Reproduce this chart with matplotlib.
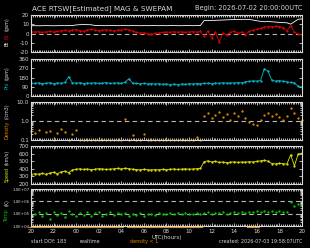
import numpy as np
import matplotlib.pyplot as plt
from matplotlib.ticker import FixedLocator, NullFormatter, LogLocator
import matplotlib.transforms as mtransforms

plt.rcParams['font.family'] = ['DejaVu Sans']
plt.rcParams['axes.unicode_minus'] = False

# time axis: hours since 2026-07-02 20:00 UTC, 20 minute samples
hours = np.arange(73) / 3.0
hour_ticks = [0, 2, 4, 6, 8, 10, 12, 14, 16, 18, 20, 22, 24]
hour_labels = ['20', '22', '00', '02', '04', '06', '08', '10', '12', '14', '16', '18', '20']

bt = [8.4, 8.5, 8.4, 8.5, 8.6, 8.5, 8.4, 8.5, 8.6, 8.5, 8.6, 8.7, 9.3,
      9.6, 9.7, 9.6, 9.5,
      8.7, 8.6, 8.6, 8.5, 8.6, 8.6, 8.5, 8.6, 8.6, 8.5, 8.6, 8.6, 8.5, 8.6, 8.5,
      8.6, 8.6, 8.5, 8.6, 8.5, 8.6, 8.6, 8.5, 8.5, 8.6, 8.6, 8.5, 8.6, 8.6,
      14.0,
      14.0, 14.2, 14.3, 14.5, 14.6, 14.8, 15.0, 15.1, 15.2, 15.3, 15.4,
      15.2, 14.6, 13.8, 13.2, 12.8,
      13.0, 12.7, 12.4, 12.0, 11.8, 11.6,
      10.2, 12.8, 15.4, 15.8]
bz = [1.5, 1.8, 2.0, 1.2, 1.9, 2.2, 1.6, 2.4,
      3.0, 3.6, 2.5, 3.8, 4.2, 3.1, 2.2, 3.9, 4.4, 3.6, 3.0, 3.8, 4.1, 3.4, 2.8,
      3.9, 3.5, 4.6, 3.8,
      2.6, 1.2, 0.6, 0.9, -0.4, -1.0, 0.3, 0.8,
      1.2, 1.6, 1.4, 1.9, 1.5, 1.8, 1.3, 1.7, 2.0, 1.6, 2.2,
      -2.5, 2.8, -4.5, 1.5, -9.0, 0.5, -1.5,
      1.2, 2.5, 0.2, 1.8, -1.2, 2.4,
      3.5, 4.8, 5.8, 7.0,
      7.6, 7.2, 7.8, 7.4, 6.5,
      3.0, 8.5, 1.5, -0.5, -1.5]
phi = [126, 122, 128, 120, 125, 130, 118, 127, 124,
       132, 186, 128,
       125, 130, 121, 127, 124, 129, 122, 126, 131, 123, 125, 128, 124,
       135, 168, 126,
       122, 119, 124, 118, 121, 116, 120, 114, 118, 112, 116, 110, 118, 114, 120,
       117, 121, 119,
       122, 126, 120, 127, 124, 129, 125, 128, 126, 131, 128,
       138, 142, 148, 145, 150,
       265, 240, 152,
       146, 150, 144, 138,
       132, 128, 95, 88]
density = [0.3, 0.22, 0.35, 0.1, 0.25, 0.3, 0.1, 0.22, 0.4, 0.28, 0.1, 0.2, 0.32,
           0.1, 0.1, 0.1, 0.1, 0.1, 0.1, 0.1, 0.1, 0.1, 0.1, 0.1, 0.1,
           1.3, 0.1, 0.18, 0.1, 0.1, 0.2,
           0.1, 0.1, 0.1, 0.1, 0.1, 0.1, 0.1, 0.1, 0.1, 0.1, 0.1, 0.1, 0.1,
           0.15, 0.1,
           1.8, 2.5, 1.4, 2.2, 3.0, 1.6, 2.4, 1.2, 2.8, 1.9, 3.2, 1.5, 0.9, 0.7,
           0.6, 1.1, 2.2, 2.6, 1.8, 2.4, 1.6, 1.2, 1.8, 4.6, 2.8, 1.4, 1.1]
speed = [325, 335, 330, 340, 328, 345, 355, 335,
         360, 370, 350, 385, 395,
         400, 392, 398, 388, 395, 402, 398, 392, 396, 400, 405, 398, 408, 402,
         395, 390, 386, 392, 388, 384, 390, 386, 392, 388, 394, 398, 392, 396,
         400, 395, 398, 402, 405,
         495, 505, 490, 498, 485, 490, 482, 488, 492, 485, 490, 488, 494, 490,
         498, 505, 512, 500, 470, 465, 472, 468, 462, 585, 440, 595, 605]
temp = [1.5e4, 9e4, 1.3e5, 6e4, 1.1e5, 4e4, 1.4e5, 8e4, 1.2e5, 5e4, 1.6e5, 9e4, 7e4,
        1.2e5, 8e4, 1.5e5, 6e4, 1.1e5, 1.3e5, 7e4, 1.0e5, 1.4e5, 8e4, 1.1e5, 9e4,
        1.2e5, 6e4, 1.0e5, 8e4, 1.1e5, 7e4, 9e4, 1.0e5, 8e4, 1.1e5, 9e4, 1.0e5,
        1.2e5, 9e4, 1.1e5, 1.0e5, 1.2e5, 9e4, 1.0e5, 1.1e5, 1.0e5,
        1.1e5, 1.3e5, 1.0e5, 1.2e5, 1.1e5, 1.3e5, 1.0e5, 1.2e5, 1.4e5, 1.1e5,
        1.3e5, 1.2e5, 1.5e5, 1.3e5, 1.6e5, 1.4e5, 1.7e5, 1.5e5, 1.8e5, 1.4e5,
        1.6e5, 1.5e5, 1.4e5, 9e5, 4e5, 6e5, 5e5]

FG = '#d8d8d8'
DASH = '#b8b8b8'
TS = 4

fig = plt.figure(figsize=(3.1, 2.48), dpi=100, facecolor='black')
rects = [[0.1, 0.7903, 0.874, 0.149],
         [0.1, 0.6129, 0.874, 0.149],
         [0.1, 0.4355, 0.874, 0.153],
         [0.1, 0.258, 0.874, 0.153],
         [0.1, 0.0887, 0.874, 0.149]]
axes = [fig.add_axes(r) for r in rects]

for ax in axes:
    ax.set_facecolor('black')
    for s in ax.spines.values():
        s.set_color(FG)
        s.set_linewidth(0.8)
    ax.set_xlim(0, 24)
    ax.xaxis.set_major_locator(FixedLocator(hour_ticks))
    ax.xaxis.set_minor_locator(FixedLocator(np.arange(0, 24.01, 1 / 6)))
    ax.tick_params(which='both', direction='in', colors=FG, top=True, right=True,
                   labelsize=TS, pad=1.5, width=0.6)
    ax.tick_params(which='major', length=2.5)
    ax.tick_params(which='minor', length=1.2)
    ax.tick_params(axis='x', labelbottom=False)

ax1, ax2, ax3, ax4, ax5 = axes

# Bt / Bz
ax1.set_ylim(-20, 20)
ax1.set_yticks([-20, -10, 0, 10, 20])
ax1.axhline(0, color=DASH, lw=0.8, dashes=(4, 3))
ax1.plot(hours, bt, color='white', lw=0.6)
ax1.plot(hours, bz, color='#e00000', lw=0.6, marker='.', ms=1.3)

# Phi
ax2.set_ylim(0, 360)
ax2.set_yticks([0, 90, 180, 270, 360])
ax2.plot(hours, phi, color='#00b8c8', lw=0.6, marker='.', ms=1.3)

# Density
ax3.set_yscale('log')
ax3.set_ylim(0.1, 10)
ax3.set_yticks([0.1, 1, 10])
ax3.set_yticklabels(['0.1', '1.0', '10.0'])
ax3.yaxis.set_minor_locator(LogLocator(subs=np.arange(2, 10)))
ax3.yaxis.set_minor_formatter(NullFormatter())
ax3.axhline(1, color=DASH, lw=0.8, dashes=(4, 3))
ax3.plot(hours, np.clip(density, 0.1, None), color='#e08c00', lw=0, marker='.',
         ms=1.3, clip_on=False)

# Speed
ax4.set_ylim(200, 700)
ax4.set_yticks([200, 300, 400, 500, 600, 700])
ax4.plot(hours, speed, color='#e0e000', lw=0.6, marker='.', ms=1.3)

# Temperature
ax5.set_yscale('log')
ax5.set_ylim(1e4, 1e7)
ax5.set_yticks([1e4, 1e5, 1e6, 1e7])
ax5.set_yticklabels(['1.0E+04', '1.0E+05', '1.0E+06', '1.0E+07'])
ax5.yaxis.set_minor_locator(LogLocator(subs=np.arange(2, 10)))
ax5.yaxis.set_minor_formatter(NullFormatter())
ax5.tick_params(axis='y', labelsize=2.9, pad=1)
ax5.axhline(1e5, color=DASH, lw=0.8, dashes=(4, 3))
ax5.axhline(1e6, color=DASH, lw=0.8, dashes=(4, 3))
ax5.plot(hours, temp, color='#00c000', lw=0, marker='.', ms=1.5)
ax5.tick_params(axis='x', labelbottom=True, pad=2)
ax5.set_xticklabels(hour_labels)
ax5.set_xlabel('UTC(hours)', color=FG, fontsize=TS, labelpad=1)

# density < 1 markers below the time axis
trans = mtransforms.blended_transform_factory(ax5.transData, ax5.transAxes)
for h, d in zip(hours, density):
    if d < 1:
        ax5.plot([h - 0.17, h + 0.17], [-0.03, -0.03], color='#e08c00', lw=0.8,
                 transform=trans, clip_on=False)

# multi-coloured rotated y labels
fig.canvas.draw()
renderer = fig.canvas.get_renderer()


def side_label(y0, parts):
    y = y0
    for txt, col in parts:
        t = fig.text(0.022, y, txt, rotation=90, color=col, fontsize=3.4,
                     ha='center', va='bottom')
        h = t.get_window_extent(renderer).height / fig.bbox.height
        y += h + 0.008


side_label(0.815, [('Bt', 'white'), ('Bz', '#e00000'), ('(gsm)', FG)])
side_label(0.64, [('Phi', '#00b8c8'), ('(gsm)', FG)])
side_label(0.44, [('Density', '#e08c00'), ('(/cm3)', FG)])
side_label(0.265, [('Speed', '#e0e000'), ('(km/s)', FG)])
side_label(0.11, [('Temp', '#00c000'), ('(K)', FG)])

fig.text(0.103, 0.966, 'ACE RTSW[Estimated] MAG & SWEPAM', color=FG, fontsize=5.2,
         ha='left', va='center')
fig.text(0.977, 0.966, 'Begin: 2026-07-02 20:00:00UTC', color=FG, fontsize=4.8,
         ha='right', va='center')
fig.text(0.1, 0.015, 'start DOY: 183', color=FG, fontsize=3.5, ha='left', va='bottom')
fig.text(0.258, 0.015, 'realtime', color=FG, fontsize=3.5, ha='left', va='bottom')
fig.text(0.42, 0.015, 'density < 1', color='#e08c00', fontsize=3.5, ha='left',
         va='bottom')
fig.text(0.977, 0.015, 'created: 2026-07-03 19:58:07UTC', color=FG, fontsize=3.5,
         ha='right', va='bottom')

fig.savefig('out.png', dpi=100, facecolor='black')
